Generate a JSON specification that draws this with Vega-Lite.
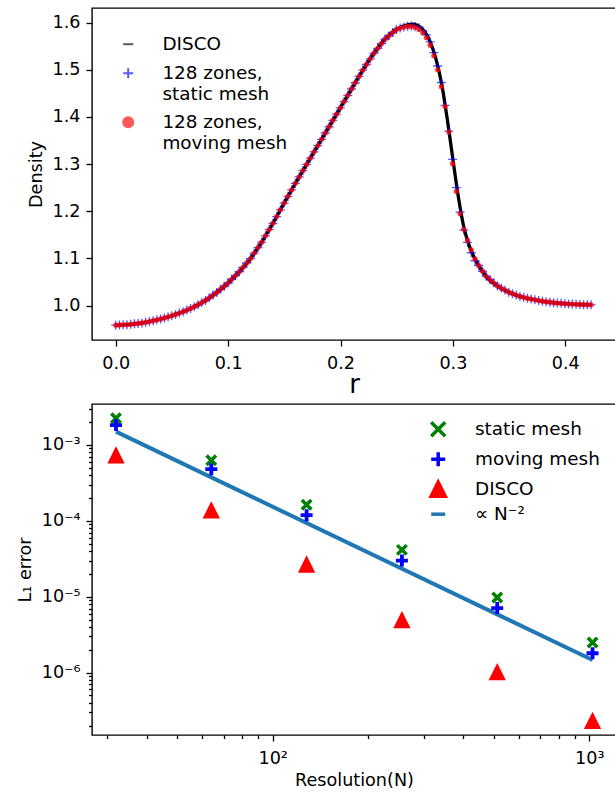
{
  "$schema": "https://vega.github.io/schema/vega-lite/v6.json",
  "background": "white",
  "padding": {"left": 15, "top": 7, "right": 0, "bottom": 0},
  "config": {
    "font": "DejaVu Sans",
    "view": {"stroke": "black", "strokeWidth": 1.4},
    "axis": {
      "domain": false, "grid": false,
      "tickColor": "black", "tickSize": 6, "tickWidth": 1.3,
      "labelColor": "black", "labelFont": "DejaVu Sans", "labelFontSize": 17.6,
      "labelFlush": false, "labelOverlap": false,
      "titleColor": "black", "titleFont": "DejaVu Sans", "titleFontSize": 17.6, "titleFontWeight": "normal"
    },
    "legend": {"labelFont": "DejaVu Sans", "labelFontSize": 18.4, "labelColor": "black", "labelLimit": 400}
  },
  "datasets": {
    "disco": [
      {"r": 0.000, "d": 0.9585}, {"r": 0.010, "d": 0.9595}, {"r": 0.020, "d": 0.9620}, {"r": 0.030, "d": 0.9660},
      {"r": 0.040, "d": 0.9715}, {"r": 0.050, "d": 0.9785}, {"r": 0.060, "d": 0.9870}, {"r": 0.070, "d": 0.9975},
      {"r": 0.080, "d": 1.0110}, {"r": 0.090, "d": 1.0280}, {"r": 0.100, "d": 1.0480}, {"r": 0.110, "d": 1.0720},
      {"r": 0.120, "d": 1.1000}, {"r": 0.130, "d": 1.1350}, {"r": 0.140, "d": 1.1750}, {"r": 0.150, "d": 1.2180},
      {"r": 0.160, "d": 1.2600}, {"r": 0.170, "d": 1.3000}, {"r": 0.180, "d": 1.3400}, {"r": 0.190, "d": 1.3800},
      {"r": 0.200, "d": 1.4200}, {"r": 0.210, "d": 1.4600}, {"r": 0.220, "d": 1.5000}, {"r": 0.230, "d": 1.5360},
      {"r": 0.240, "d": 1.5660}, {"r": 0.250, "d": 1.5860}, {"r": 0.260, "d": 1.5960}, {"r": 0.265, "d": 1.5970},
      {"r": 0.270, "d": 1.5920}, {"r": 0.275, "d": 1.5800}, {"r": 0.280, "d": 1.5580}, {"r": 0.285, "d": 1.5220},
      {"r": 0.290, "d": 1.4700}, {"r": 0.295, "d": 1.3950}, {"r": 0.300, "d": 1.3100}, {"r": 0.305, "d": 1.2280},
      {"r": 0.310, "d": 1.1630}, {"r": 0.315, "d": 1.1240}, {"r": 0.320, "d": 1.0970}, {"r": 0.325, "d": 1.0770},
      {"r": 0.330, "d": 1.0610}, {"r": 0.340, "d": 1.0410}, {"r": 0.350, "d": 1.0280}, {"r": 0.360, "d": 1.0190},
      {"r": 0.370, "d": 1.0135}, {"r": 0.380, "d": 1.0090}, {"r": 0.390, "d": 1.0060}, {"r": 0.400, "d": 1.0040},
      {"r": 0.410, "d": 1.0025}, {"r": 0.4235, "d": 1.0015}
    ],
    "zones": [
      {"r": 0.0, "s": 0.9585, "m": 0.9585}, {"r": 0.00333, "s": 0.9588, "m": 0.9588}, {"r": 0.00666, "s": 0.9592, "m": 0.9592},
      {"r": 0.00999, "s": 0.9595, "m": 0.9595}, {"r": 0.01332, "s": 0.9603, "m": 0.9603}, {"r": 0.01665, "s": 0.9612, "m": 0.9612},
      {"r": 0.01998, "s": 0.9620, "m": 0.9620}, {"r": 0.02331, "s": 0.9633, "m": 0.9633}, {"r": 0.02664, "s": 0.9647, "m": 0.9647},
      {"r": 0.02997, "s": 0.9660, "m": 0.9660}, {"r": 0.0333, "s": 0.9678, "m": 0.9678}, {"r": 0.03663, "s": 0.9697, "m": 0.9697},
      {"r": 0.03996, "s": 0.9715, "m": 0.9715}, {"r": 0.04329, "s": 0.9738, "m": 0.9738}, {"r": 0.04662, "s": 0.9761, "m": 0.9761},
      {"r": 0.04995, "s": 0.9785, "m": 0.9785}, {"r": 0.05328, "s": 0.9813, "m": 0.9813}, {"r": 0.05661, "s": 0.9842, "m": 0.9842},
      {"r": 0.05994, "s": 0.9870, "m": 0.9870}, {"r": 0.06327, "s": 0.9904, "m": 0.9904}, {"r": 0.0666, "s": 0.9940, "m": 0.9940},
      {"r": 0.06993, "s": 0.9975, "m": 0.9975}, {"r": 0.07326, "s": 1.0019, "m": 1.0019}, {"r": 0.07659, "s": 1.0064, "m": 1.0064},
      {"r": 0.07992, "s": 1.0109, "m": 1.0109}, {"r": 0.08325, "s": 1.0165, "m": 1.0165}, {"r": 0.08658, "s": 1.0222, "m": 1.0222},
      {"r": 0.08991, "s": 1.0278, "m": 1.0278}, {"r": 0.09324, "s": 1.0345, "m": 1.0345}, {"r": 0.09657, "s": 1.0411, "m": 1.0411},
      {"r": 0.0999, "s": 1.0478, "m": 1.0478}, {"r": 0.10323, "s": 1.0558, "m": 1.0558}, {"r": 0.10656, "s": 1.0637, "m": 1.0637},
      {"r": 0.10989, "s": 1.0717, "m": 1.0717}, {"r": 0.11322, "s": 1.0810, "m": 1.0810}, {"r": 0.11655, "s": 1.0903, "m": 1.0903},
      {"r": 0.11988, "s": 1.0997, "m": 1.0997}, {"r": 0.12321, "s": 1.1112, "m": 1.1112}, {"r": 0.12654, "s": 1.1229, "m": 1.1229},
      {"r": 0.12987, "s": 1.1345, "m": 1.1345}, {"r": 0.1332, "s": 1.1478, "m": 1.1478}, {"r": 0.13653, "s": 1.1611, "m": 1.1611},
      {"r": 0.13986, "s": 1.1744, "m": 1.1744}, {"r": 0.14319, "s": 1.1887, "m": 1.1887}, {"r": 0.14652, "s": 1.2030, "m": 1.2030},
      {"r": 0.14985, "s": 1.2174, "m": 1.2174}, {"r": 0.15318, "s": 1.2314, "m": 1.2314}, {"r": 0.15651, "s": 1.2453, "m": 1.2453},
      {"r": 0.15984, "s": 1.2593, "m": 1.2593}, {"r": 0.16317, "s": 1.2727, "m": 1.2727}, {"r": 0.1665, "s": 1.2860, "m": 1.2860},
      {"r": 0.16983, "s": 1.2993, "m": 1.2993}, {"r": 0.17316, "s": 1.3126, "m": 1.3126}, {"r": 0.17649, "s": 1.3260, "m": 1.3260},
      {"r": 0.17982, "s": 1.3393, "m": 1.3393}, {"r": 0.18315, "s": 1.3526, "m": 1.3526}, {"r": 0.18648, "s": 1.3659, "m": 1.3659},
      {"r": 0.18981, "s": 1.3792, "m": 1.3792}, {"r": 0.19314, "s": 1.3926, "m": 1.3926}, {"r": 0.19647, "s": 1.4059, "m": 1.4059},
      {"r": 0.1998, "s": 1.4192, "m": 1.4192}, {"r": 0.20313, "s": 1.4325, "m": 1.4325}, {"r": 0.20646, "s": 1.4458, "m": 1.4458},
      {"r": 0.20979, "s": 1.4592, "m": 1.4592}, {"r": 0.21312, "s": 1.4725, "m": 1.4725}, {"r": 0.21645, "s": 1.4858, "m": 1.4858},
      {"r": 0.21978, "s": 1.4991, "m": 1.4991}, {"r": 0.22311, "s": 1.5112, "m": 1.5112}, {"r": 0.22644, "s": 1.5232, "m": 1.5232},
      {"r": 0.22977, "s": 1.5352, "m": 1.5352}, {"r": 0.2331, "s": 1.5453, "m": 1.5453}, {"r": 0.23643, "s": 1.5553, "m": 1.5553},
      {"r": 0.23976, "s": 1.5653, "m": 1.5653}, {"r": 0.24309, "s": 1.5722, "m": 1.5722}, {"r": 0.24642, "s": 1.5788, "m": 1.5788},
      {"r": 0.24975, "s": 1.5855, "m": 1.5855}, {"r": 0.25308, "s": 1.5885, "m": 1.5880}, {"r": 0.25641, "s": 1.5905, "m": 1.5905},
      {"r": 0.25974, "s": 1.5925, "m": 1.5920}, {"r": 0.26307, "s": 1.5930, "m": 1.5920}, {"r": 0.2664, "s": 1.5920, "m": 1.5900},
      {"r": 0.26973, "s": 1.5895, "m": 1.5860}, {"r": 0.27306, "s": 1.5830, "m": 1.5790}, {"r": 0.27639, "s": 1.5740, "m": 1.5680},
      {"r": 0.27972, "s": 1.5590, "m": 1.5520}, {"r": 0.28305, "s": 1.5362, "m": 1.5300}, {"r": 0.28638, "s": 1.5080, "m": 1.5000},
      {"r": 0.28971, "s": 1.4730, "m": 1.4640}, {"r": 0.29304, "s": 1.4244, "m": 1.4220}, {"r": 0.29637, "s": 1.3700, "m": 1.3680},
      {"r": 0.2997, "s": 1.3100, "m": 1.3010}, {"r": 0.30303, "s": 1.2500, "m": 1.2420}, {"r": 0.30636, "s": 1.1980, "m": 1.1950},
      {"r": 0.30969, "s": 1.1600, "m": 1.1620}, {"r": 0.31302, "s": 1.1340, "m": 1.1380}, {"r": 0.31635, "s": 1.1120, "m": 1.1180},
      {"r": 0.31968, "s": 1.0950, "m": 1.0990}, {"r": 0.32301, "s": 1.0850, "m": 1.0850}, {"r": 0.32634, "s": 1.0728, "m": 1.0728},
      {"r": 0.32967, "s": 1.0621, "m": 1.0621}, {"r": 0.333, "s": 1.0550, "m": 1.0550}, {"r": 0.33633, "s": 1.0483, "m": 1.0483},
      {"r": 0.33966, "s": 1.0417, "m": 1.0417}, {"r": 0.34299, "s": 1.0371, "m": 1.0371}, {"r": 0.34632, "s": 1.0328, "m": 1.0328},
      {"r": 0.34965, "s": 1.0285, "m": 1.0285}, {"r": 0.35298, "s": 1.0253, "m": 1.0253}, {"r": 0.35631, "s": 1.0223, "m": 1.0223},
      {"r": 0.35964, "s": 1.0193, "m": 1.0193}, {"r": 0.36297, "s": 1.0174, "m": 1.0174}, {"r": 0.3663, "s": 1.0155, "m": 1.0155},
      {"r": 0.36963, "s": 1.0137, "m": 1.0137}, {"r": 0.37296, "s": 1.0122, "m": 1.0122}, {"r": 0.37629, "s": 1.0107, "m": 1.0107},
      {"r": 0.37962, "s": 1.0092, "m": 1.0092}, {"r": 0.38295, "s": 1.0081, "m": 1.0081}, {"r": 0.38628, "s": 1.0071, "m": 1.0071},
      {"r": 0.38961, "s": 1.0061, "m": 1.0061}, {"r": 0.39294, "s": 1.0054, "m": 1.0054}, {"r": 0.39627, "s": 1.0047, "m": 1.0047},
      {"r": 0.3996, "s": 1.0040, "m": 1.0040}, {"r": 0.40293, "s": 1.0036, "m": 1.0036}, {"r": 0.40626, "s": 1.0031, "m": 1.0031},
      {"r": 0.40959, "s": 1.0026, "m": 1.0026}, {"r": 0.41292, "s": 1.0023, "m": 1.0023}, {"r": 0.41625, "s": 1.0020, "m": 1.0020},
      {"r": 0.41958, "s": 1.0018, "m": 1.0018}, {"r": 0.42291, "s": 1.0015, "m": 1.0015}
    ],
    "errors": [
      {"N": 32, "series": "\u00a0∝ N⁻²", "err": 0.0015},
      {"N": 1024, "series": "\u00a0∝ N⁻²", "err": 0.000001465},
      {"N": 32, "series": "static mesh", "err": 0.00225},
      {"N": 64, "series": "static mesh", "err": 0.00063},
      {"N": 128, "series": "static mesh", "err": 0.000163},
      {"N": 256, "series": "static mesh", "err": 0.0000415},
      {"N": 512, "series": "static mesh", "err": 0.0000098},
      {"N": 1024, "series": "static mesh", "err": 0.0000025},
      {"N": 32, "series": "moving mesh", "err": 0.00183},
      {"N": 64, "series": "moving mesh", "err": 0.00048},
      {"N": 128, "series": "moving mesh", "err": 0.000119},
      {"N": 256, "series": "moving mesh", "err": 0.00003},
      {"N": 512, "series": "moving mesh", "err": 0.0000071},
      {"N": 1024, "series": "moving mesh", "err": 0.0000018},
      {"N": 32, "series": "DISCO", "err": 0.00074},
      {"N": 64, "series": "DISCO", "err": 0.00014},
      {"N": 128, "series": "DISCO", "err": 0.000027},
      {"N": 256, "series": "DISCO", "err": 0.000005},
      {"N": 512, "series": "DISCO", "err": 0.00000103},
      {"N": 1024, "series": "DISCO", "err": 0.000000235}
    ]
  },
  "spacing": 0,
  "resolve": {"scale": {"color": "independent", "shape": "independent"}},
  "vconcat": [
    {
      "width": 524,
      "height": 332,
      "layer": [
        {
          "data": {"name": "disco"},
          "mark": {"type": "line", "strokeWidth": 3.3, "interpolate": "monotone"},
          "encoding": {
            "x": {
              "field": "r", "type": "quantitative",
              "scale": {"domain": [-0.0211, 0.4451], "nice": false, "zero": false},
              "axis": {"values": [0, 0.1, 0.2, 0.3, 0.4], "format": ".1f", "labelPadding": 8, "title": "r", "titleFontSize": 26, "titlePadding": 0}
            },
            "y": {
              "field": "d", "type": "quantitative",
              "scale": {"domain": [0.927, 1.631], "nice": false, "zero": false},
              "axis": {"values": [1.0, 1.1, 1.2, 1.3, 1.4, 1.5, 1.6], "format": ".1f", "labelPadding": 6, "title": "Density", "titlePadding": 7}
            },
            "color": {
              "datum": "DISCO",
              "scale": {
                "domain": ["DISCO", "128 zones,|\u00a0static mesh", "128 zones,|\u00a0moving mesh"],
                "range": ["black", "blue", "red"]
              },
              "legend": {"orient": "top-left", "offset": 27, "title": null, "symbolSize": 100, "symbolStrokeWidth": 2, "labelOffset": 25, "rowPadding": 10, "labelExpr": "split(datum.value, '|')"}
            }
          }
        },
        {
          "data": {"name": "zones"},
          "mark": {"type": "point", "filled": false, "size": 81, "strokeWidth": 1.3, "opacity": 0.65},
          "encoding": {
            "x": {"field": "r", "type": "quantitative", "axis": {"values": [0, 0.1, 0.2, 0.3, 0.4], "format": ".1f", "labelPadding": 8, "title": "r", "titleFontSize": 26, "titlePadding": 0}},
            "y": {"field": "s", "type": "quantitative", "axis": {"values": [1.0, 1.1, 1.2, 1.3, 1.4, 1.5, 1.6], "format": ".1f", "labelPadding": 6, "title": "Density", "titlePadding": 7}},
            "color": {"datum": "128 zones,|\u00a0static mesh"},
            "shape": {
              "datum": "128 zones,|\u00a0static mesh",
              "scale": {
                "domain": ["DISCO", "128 zones,|\u00a0static mesh", "128 zones,|\u00a0moving mesh"],
                "range": ["M-1,0H1", "M-1,0H1M0,-1V1", "circle"]
              },
              "legend": {"orient": "top-left", "offset": 27, "title": null, "symbolSize": 100, "symbolStrokeWidth": 2, "labelOffset": 25, "rowPadding": 10, "labelExpr": "split(datum.value, '|')"}
            }
          }
        },
        {
          "data": {"name": "zones"},
          "mark": {"type": "point", "filled": true, "size": 28, "opacity": 0.75},
          "encoding": {
            "x": {"field": "r", "type": "quantitative", "axis": {"values": [0, 0.1, 0.2, 0.3, 0.4], "format": ".1f", "labelPadding": 8, "title": "r", "titleFontSize": 26, "titlePadding": 0}},
            "y": {"field": "m", "type": "quantitative", "axis": {"values": [1.0, 1.1, 1.2, 1.3, 1.4, 1.5, 1.6], "format": ".1f", "labelPadding": 6, "title": "Density", "titlePadding": 7}},
            "color": {"datum": "128 zones,|\u00a0moving mesh"},
            "shape": {"datum": "128 zones,|\u00a0moving mesh"}
          }
        }
      ]
    },
    {
      "width": 524,
      "height": 331,
      "data": {"name": "errors"},
      "encoding": {
        "x": {
          "field": "N", "type": "quantitative",
          "scale": {"type": "log", "domain": [26.88, 1214.5], "nice": false},
          "axis": {
            "values": [30, 40, 50, 60, 70, 80, 90, 100, 200, 300, 400, 500, 600, 700, 800, 900, 1000],
            "labelExpr": "datum.value == 100 ? '10²' : datum.value == 1000 ? '10³' : ''",
            "tickDash": {"condition": {"test": "datum.value == 100 || datum.value == 1000", "value": [6, 0]}, "value": [3.5, 30]},
            "labelPadding": 8,
            "title": "Resolution(N)", "titlePadding": 5
          }
        },
        "y": {
          "field": "err", "type": "quantitative",
          "scale": {"type": "log", "domain": [1.507e-7, 3.47e-3], "nice": false},
          "axis": {
            "values": [2e-7, 3e-7, 4e-7, 5e-7, 6e-7, 7e-7, 8e-7, 9e-7, 1e-6, 2e-6, 3e-6, 4e-6, 5e-6, 6e-6, 7e-6, 8e-6, 9e-6, 1e-5, 2e-5, 3e-5, 4e-5, 5e-5, 6e-5, 7e-5, 8e-5, 9e-5, 1e-4, 2e-4, 3e-4, 4e-4, 5e-4, 6e-4, 7e-4, 8e-4, 9e-4, 1e-3, 2e-3, 3e-3],
            "labelExpr": "datum.value == 1e-3 ? '10⁻³' : datum.value == 1e-4 ? '10⁻⁴' : datum.value == 1e-5 ? '10⁻⁵' : datum.value == 1e-6 ? '10⁻⁶' : ''",
            "tickDash": {"condition": {"test": "datum.value == 1e-3 || datum.value == 1e-4 || datum.value == 1e-5 || datum.value == 1e-6", "value": [6, 0]}, "value": [3.5, 30]},
            "labelPadding": 6,
            "title": "L₁ error", "titlePadding": 7
          }
        },
        "color": {
          "field": "series", "type": "nominal",
          "scale": {
            "domain": ["static mesh", "moving mesh", "DISCO", "\u00a0∝ N⁻²"],
            "range": ["green", "blue", "red", "#1f77b4"]
          },
          "legend": {"orient": "top-right", "offset": 16, "title": null, "symbolSize": 196, "symbolStrokeWidth": 3.5, "labelOffset": 27.6, "rowPadding": 1}
        }
      },
      "layer": [
        {
          "transform": [{"filter": "indexof(datum.series, 'N') >= 0"}],
          "mark": {"type": "line", "strokeWidth": 4}
        },
        {
          "transform": [{"filter": "datum.series == 'static mesh'"}],
          "mark": {"type": "point", "filled": false, "size": 90, "strokeWidth": 3.5, "opacity": 1},
          "encoding": {
            "shape": {
              "field": "series", "type": "nominal",
              "scale": {
                "domain": ["static mesh", "moving mesh", "DISCO", "\u00a0∝ N⁻²"],
                "range": ["M-1,-1L1,1M1,-1L-1,1", "M-1,0H1M0,-1V1", "M0,-1L1,1L-1,1Z", "M-1,0H1"]
              },
              "legend": {"orient": "top-right", "offset": 16, "title": null, "symbolSize": 196, "symbolStrokeWidth": 3.5, "labelOffset": 27.6, "rowPadding": 1}
            }
          }
        },
        {
          "transform": [{"filter": "datum.series == 'moving mesh'"}],
          "mark": {"type": "point", "filled": false, "size": 144, "strokeWidth": 3.8, "opacity": 1},
          "encoding": {"shape": {"field": "series", "type": "nominal"}}
        },
        {
          "transform": [{"filter": "datum.series == 'DISCO'"}],
          "mark": {"type": "point", "filled": true, "size": 300, "opacity": 1},
          "encoding": {"shape": {"field": "series", "type": "nominal"}}
        }
      ]
    }
  ]
}
